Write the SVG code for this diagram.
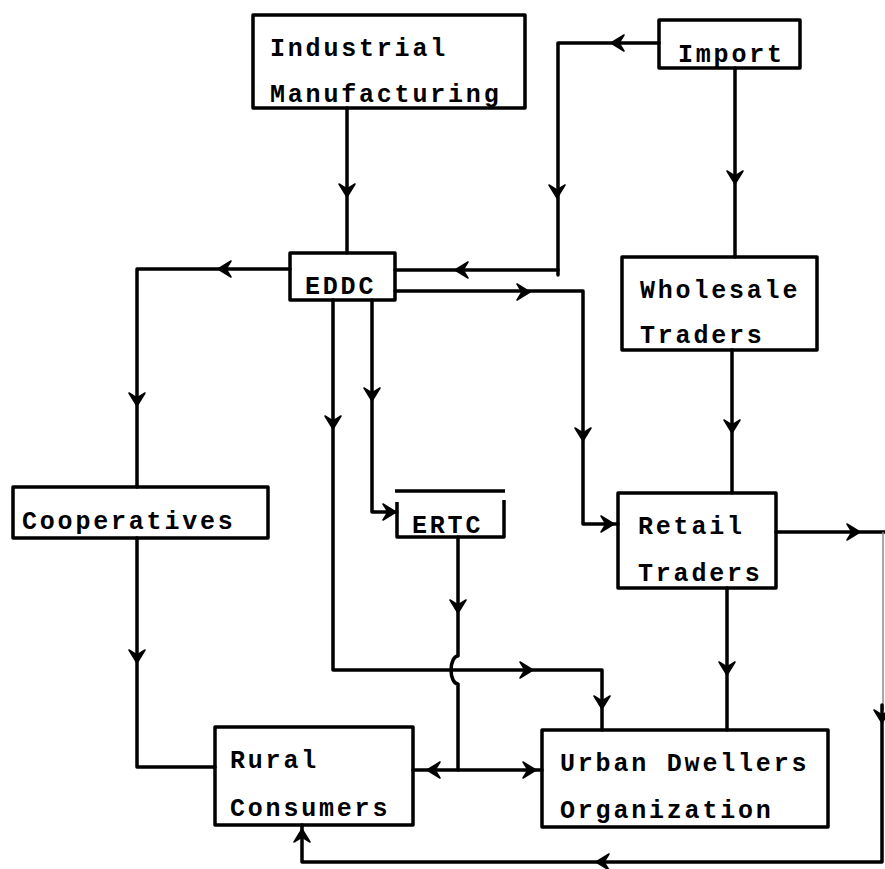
<svg xmlns="http://www.w3.org/2000/svg" xmlns:xlink="http://www.w3.org/1999/xlink" width="885" height="869" viewBox="0 0 885 869">
<style>
.box{fill:none;stroke:#000;stroke-width:3.5;stroke-linejoin:round}
.ln{fill:none;stroke:#000;stroke-width:3.5;stroke-linejoin:round;stroke-linecap:round}
.ah{fill:#000;stroke:#000;stroke-width:1.5;stroke-linejoin:round}
.t{font-family:"Liberation Mono","DejaVu Sans Mono",monospace;font-weight:bold;font-size:25px;letter-spacing:2.8px;fill:#000}
</style>
<defs>
<path id="ah" class="ah" d="M1,0 L-12,-8 L-7,0 L-12,8 Z"/>
</defs>
<rect width="885" height="869" fill="#fff"/>
<g id="connectors">
<path class="ln" d="M347,108 V253"/>
<use xlink:href="#ah" transform="translate(347,196) rotate(90)"/>
<path class="ln" d="M659,43 H558 V275"/>
<path class="ln" d="M395,270 H558"/>
<use xlink:href="#ah" transform="translate(612,43) rotate(180)"/>
<use xlink:href="#ah" transform="translate(557,197) rotate(90)"/>
<use xlink:href="#ah" transform="translate(456,270) rotate(180)"/>
<path class="ln" d="M395,291 H583 V524 H618"/>
<use xlink:href="#ah" transform="translate(529,292) rotate(0)"/>
<use xlink:href="#ah" transform="translate(583,440) rotate(90)"/>
<use xlink:href="#ah" transform="translate(613,524) rotate(0)"/>
<path class="ln" d="M290,269 H137 V487"/>
<use xlink:href="#ah" transform="translate(219,269) rotate(180)"/>
<use xlink:href="#ah" transform="translate(137,405) rotate(90)"/>
<path class="ln" d="M372,300 V512 H397"/>
<use xlink:href="#ah" transform="translate(372,400) rotate(90)"/>
<use xlink:href="#ah" transform="translate(395,512) rotate(0)"/>
<path class="ln" d="M333,300 V670 H602 V730"/>
<use xlink:href="#ah" transform="translate(333,428) rotate(90)"/>
<use xlink:href="#ah" transform="translate(532,670) rotate(0)"/>
<use xlink:href="#ah" transform="translate(602,708) rotate(90)"/>
<path class="ln" d="M735,68 V257"/>
<use xlink:href="#ah" transform="translate(735,183) rotate(90)"/>
<path class="ln" d="M732,350 V493"/>
<use xlink:href="#ah" transform="translate(732,432) rotate(90)"/>
<path class="ln" d="M727,588 V730"/>
<use xlink:href="#ah" transform="translate(727,674) rotate(90)"/>
<path class="ln" d="M458,537 V656 A7 14 0 0 0 458 684 V770"/>
<path class="ln" d="M413,770 H542"/>
<use xlink:href="#ah" transform="translate(458,612) rotate(90)"/>
<use xlink:href="#ah" transform="translate(428,770) rotate(180)"/>
<use xlink:href="#ah" transform="translate(535,770) rotate(0)"/>
<path class="ln" d="M137,538 V767 H215"/>
<use xlink:href="#ah" transform="translate(137,662) rotate(90)"/>
<path class="ln" d="M776,532 H885"/>
<use xlink:href="#ah" transform="translate(859,532) rotate(0)"/>
<path d="M883,532 V710" fill="none" stroke="#888" stroke-width="1.5"/>
<path class="ln" d="M882,705 V862 H302 V825"/>
<use xlink:href="#ah" transform="translate(882,722) rotate(90)"/>
<use xlink:href="#ah" transform="translate(597,862) rotate(180)"/>
<use xlink:href="#ah" transform="translate(302,830) rotate(270)"/>
</g>
<g id="industrial">
<rect class="box" x="253" y="15" width="272" height="93"/>
<text class="t" x="270" y="56">Industrial</text>
<text class="t" x="270" y="102">Manufacturing</text>
</g>
<g id="import">
<rect class="box" x="659" y="20" width="141" height="48"/>
<text class="t" x="678" y="62">Import</text>
</g>
<g id="eddc">
<rect class="box" x="290" y="253" width="105" height="47"/>
<text class="t" x="305" y="294">EDDC</text>
</g>
<g id="wholesale">
<rect class="box" x="622" y="257" width="195" height="93"/>
<text class="t" x="640" y="298">Wholesale</text>
<text class="t" x="640" y="343">Traders</text>
</g>
<g id="cooperatives">
<rect class="box" x="13" y="487" width="255" height="51"/>
<text class="t" x="22" y="529">Cooperatives</text>
</g>
<g id="ertc">
<path class="box" d="M395,491 H505 M397,502 V537 H504 V500"/>
<text class="t" x="412" y="533">ERTC</text>
</g>
<g id="retail">
<rect class="box" x="618" y="493" width="158" height="95"/>
<text class="t" x="638" y="534">Retail</text>
<text class="t" x="638" y="581">Traders</text>
</g>
<g id="rural">
<rect class="box" x="215" y="727" width="198" height="98"/>
<text class="t" x="230" y="768">Rural</text>
<text class="t" x="230" y="816">Consumers</text>
</g>
<g id="urban">
<rect class="box" x="542" y="730" width="286" height="97"/>
<text class="t" x="560" y="771">Urban Dwellers</text>
<text class="t" x="560" y="818">Organization</text>
</g>
</svg>
